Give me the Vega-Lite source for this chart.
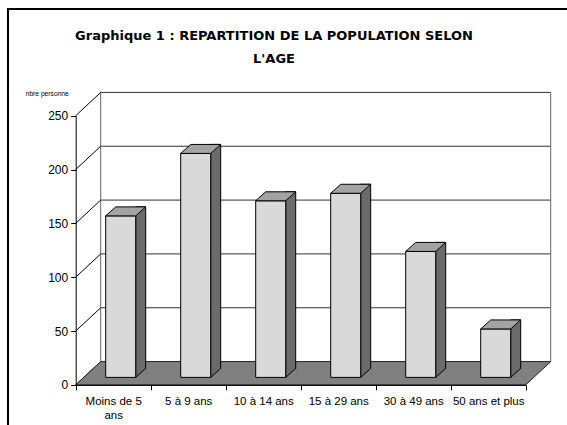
{
  "$schema": "https://vega.github.io/schema/vega-lite/v6.json",
  "autosize": "none",
  "padding": {"left": 8, "top": 9, "right": 0, "bottom": 0},
  "width": 559,
  "height": 416,
  "background": "white",
  "view": {"stroke": "black", "strokeWidth": 2, "strokeDash": [559, 975, 416], "fill": "white"},
  "title": {
    "text": ["Graphique 1 : REPARTITION DE LA POPULATION SELON", "L'AGE"],
    "font": "DejaVu Sans",
    "fontWeight": "bold",
    "fontSize": 13,
    "color": "black",
    "anchor": "middle",
    "frame": "group",
    "baseline": "top",
    "lineHeight": 22.7,
    "offset": -57,
    "dx": -13.5
  },
  "datasets": {
    "pop": [
      {"age": "Moins de 5 ans", "personnes": 150},
      {"age": "5 à 9 ans", "personnes": 208},
      {"age": "10 à 14 ans", "personnes": 164},
      {"age": "15 à 29 ans", "personnes": 171},
      {"age": "30 à 49 ans", "personnes": 117},
      {"age": "50 ans et plus", "personnes": 45}
    ],
    "ticks": [
      {"v": 0}, {"v": 50}, {"v": 100}, {"v": 150}, {"v": 200}, {"v": 250}
    ]
  },
  "data": {"name": "pop"},
  "layer": [
    {
      "data": {"name": "ticks"},
      "transform": [{"filter": "datum.v > 0"}],
      "mark": {"type": "rule", "color": "#333333", "strokeWidth": 1, "xOffset": 25, "x2Offset": 25, "yOffset": -23.3},
      "encoding": {
        "x": {"datum": "Moins de 5 ans", "type": "nominal", "bandPosition": 0,
              "scale": {"type": "band", "domain": ["Moins de 5 ans", "5 à 9 ans", "10 à 14 ans", "15 à 29 ans", "30 à 49 ans", "50 ans et plus"], "range": [67.7, 517.7], "paddingInner": 0, "paddingOuter": 0},
              "axis": {"title": null, "orient": "bottom", "offset": -40.1, "tickBand": "extent", "tickSize": 5, "tickColor": "black", "domainColor": "black", "labelFont": "Liberation Sans", "labelFontSize": 11.5, "labelColor": "black", "labelPadding": 6, "labelAngle": 0, "labelLineHeight": 14, "labelExpr": "datum.value == 'Moins de 5 ans' ? ['Moins de 5', 'ans'] : datum.value", "labelLimit": 200, "labelOverlap": false, "labelFlush": false, "grid": false, "zindex": 1}},
        "x2": {"datum": "50 ans et plus", "bandPosition": 1},
        "y": {"field": "v", "type": "quantitative",
              "scale": {"type": "linear", "domain": [0, 250], "range": [375.9, 106.7], "nice": false, "zero": false},
              "axis": {"title": "nbre personne", "orient": "left", "values": [0, 50, 100, 150, 200, 250], "offset": -67.7, "tickSize": 5, "tickColor": "black", "domainColor": "black", "labelFont": "Liberation Sans", "labelFontSize": 12, "labelColor": "black", "labelPadding": 3, "grid": false, "titleAngle": 0, "titleAlign": "right", "titleBaseline": "alphabetic", "titleX": -7.4, "titleY": 86.5, "titleFont": "Liberation Sans", "titleFontSize": 6.7, "titleFontWeight": "normal", "titleColor": "black", "zindex": 1}}
      }
    },
    {
      "data": {"name": "ticks"},
      "transform": [{"filter": "datum.v == 0"}],
      "mark": {"type": "rule", "color": "#666666", "strokeWidth": 1, "xOffset": 25, "yOffset": -23.3, "y2Offset": -23.3},
      "encoding": {
        "x": {"datum": "Moins de 5 ans", "type": "nominal", "bandPosition": 0},
        "y": {"datum": 0, "type": "quantitative"},
        "y2": {"datum": 250}
      }
    },
    {
      "data": {"name": "ticks"},
      "transform": [{"filter": "datum.v == 0"}],
      "mark": {"type": "rule", "color": "#666666", "strokeWidth": 1, "xOffset": 25, "yOffset": -23.3, "y2Offset": -23.3},
      "encoding": {
        "x": {"datum": "50 ans et plus", "type": "nominal", "bandPosition": 1},
        "y": {"datum": 0, "type": "quantitative"},
        "y2": {"datum": 250}
      }
    },
    {
      "data": {"name": "ticks"},
      "mark": {"type": "point", "shape": "M0,0L25,-23.3", "size": 4, "filled": false, "stroke": "black", "strokeWidth": 1, "opacity": 1},
      "encoding": {
        "x": {"datum": "Moins de 5 ans", "type": "nominal", "bandPosition": 0},
        "y": {"field": "v", "type": "quantitative"}
      }
    },
    {
      "data": {"name": "ticks"},
      "transform": [{"filter": "datum.v == 0"}],
      "mark": {"type": "point", "shape": "M0,0L450,0L475,-23.3L25,-23.3Z", "size": 4, "filled": true, "fill": "#808080", "stroke": "#222222", "strokeWidth": 1, "opacity": 1},
      "encoding": {
        "x": {"datum": "Moins de 5 ans", "type": "nominal", "bandPosition": 0},
        "y": {"field": "v", "type": "quantitative"}
      }
    },
    {
      "mark": {"type": "bar", "width": 10, "xOffset": 27.5, "yOffset": -16.5, "y2Offset": -7.5, "fill": "#6b6b6b", "stroke": "black", "strokeWidth": 1, "opacity": 1},
      "encoding": {
        "x": {"field": "age", "type": "nominal"},
        "y": {"field": "personnes", "type": "quantitative"},
        "y2": {"datum": 0}
      }
    },
    {
      "mark": {"type": "point", "shape": "M0,0L10,-9L11,-9L11,1L0.5,1L0.5,0Z", "size": 4, "filled": true, "fill": "#808080", "strokeWidth": 0, "xOffset": 22.5, "yOffset": -7.5, "opacity": 1},
      "encoding": {
        "x": {"field": "age", "type": "nominal"},
        "y": {"datum": 0, "type": "quantitative"}
      }
    },
    {
      "mark": {"type": "point", "shape": "M0,0L10,-9", "size": 4, "filled": false, "stroke": "black", "strokeWidth": 1, "xOffset": 22.5, "yOffset": -7.5, "opacity": 1},
      "encoding": {
        "x": {"field": "age", "type": "nominal"},
        "y": {"datum": 0, "type": "quantitative"}
      }
    },
    {
      "mark": {"type": "bar", "width": 30, "xOffset": 7.5, "yOffset": -7.5, "y2Offset": -7.5, "fill": "#d9d9d9", "stroke": "black", "strokeWidth": 1, "opacity": 1},
      "encoding": {
        "x": {"field": "age", "type": "nominal"},
        "y": {"field": "personnes", "type": "quantitative"},
        "y2": {"datum": 0}
      }
    },
    {
      "mark": {"type": "point", "shape": "M0,0L30,0L40,-9L10,-9Z", "size": 4, "filled": true, "fill": "#a3a3a3", "stroke": "black", "strokeWidth": 1, "xOffset": -7.5, "yOffset": -7.5, "opacity": 1},
      "encoding": {
        "x": {"field": "age", "type": "nominal"},
        "y": {"field": "personnes", "type": "quantitative"}
      }
    }
  ]
}
